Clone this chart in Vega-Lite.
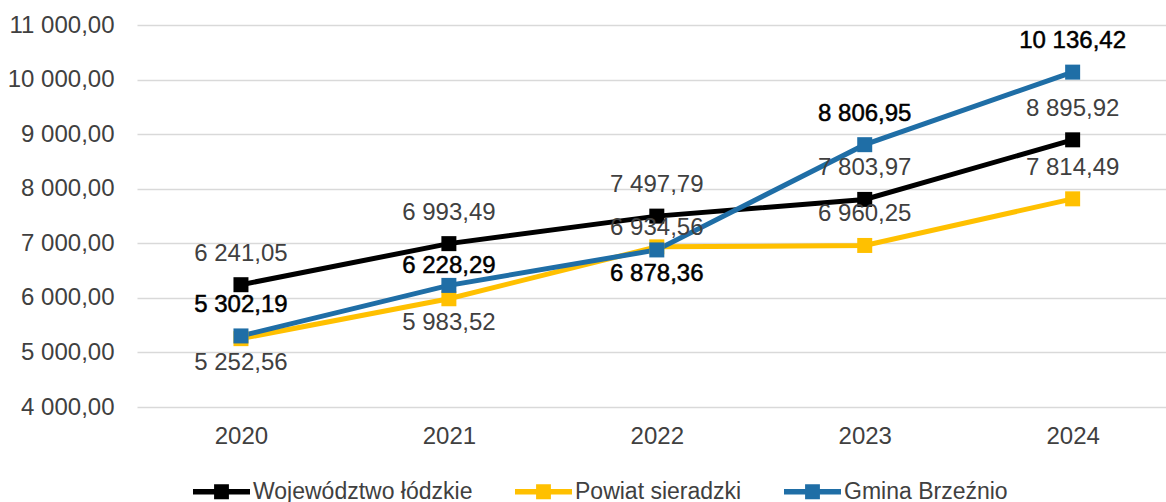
{
  "$schema": "https://vega.github.io/schema/vega-lite/v6.json",
  "width": 1029,
  "height": 382,
  "autosize": {"type": "none"},
  "padding": {"left": 137, "top": 25, "right": 0, "bottom": 95},
  "config": {
    "locale": {"number": {"decimal": ",", "thousands": " ", "grouping": [3], "currency": ["", " zł"]}},
    "font": "Liberation Sans",
    "view": {"stroke": null}
  },
  "data": {
    "values": [
      {"year": 2020, "series": "Województwo łódzkie", "value": 6241.05, "pos": "above"},
      {"year": 2021, "series": "Województwo łódzkie", "value": 6993.49, "pos": "above"},
      {"year": 2022, "series": "Województwo łódzkie", "value": 7497.79, "pos": "above"},
      {"year": 2023, "series": "Województwo łódzkie", "value": 7803.97, "pos": "above"},
      {"year": 2024, "series": "Województwo łódzkie", "value": 8895.92, "pos": "above"},
      {"year": 2020, "series": "Powiat sieradzki", "value": 5252.56, "pos": "below"},
      {"year": 2021, "series": "Powiat sieradzki", "value": 5983.52, "pos": "below"},
      {"year": 2022, "series": "Powiat sieradzki", "value": 6934.56, "pos": "above-near"},
      {"year": 2023, "series": "Powiat sieradzki", "value": 6960.25, "pos": "above"},
      {"year": 2024, "series": "Powiat sieradzki", "value": 7814.49, "pos": "above"},
      {"year": 2020, "series": "Gmina Brzeźnio", "value": 5302.19, "pos": "above"},
      {"year": 2021, "series": "Gmina Brzeźnio", "value": 6228.29, "pos": "above-near"},
      {"year": 2022, "series": "Gmina Brzeźnio", "value": 6878.36, "pos": "below"},
      {"year": 2023, "series": "Gmina Brzeźnio", "value": 8806.95, "pos": "above"},
      {"year": 2024, "series": "Gmina Brzeźnio", "value": 10136.42, "pos": "above"}
    ]
  },
  "encoding": {
    "x": {
      "field": "year", "type": "quantitative",
      "scale": {"domain": [2019.5, 2024.449], "nice": false, "zero": false},
      "axis": {
        "title": null, "values": [2020, 2021, 2022, 2023, 2024], "format": "d",
        "grid": false, "domain": false, "ticks": false,
        "labelFontSize": 24, "labelColor": "#404040", "labelPadding": 17
      }
    },
    "y": {
      "field": "value", "type": "quantitative",
      "scale": {"domain": [4000, 11000], "nice": false, "zero": false},
      "axis": {
        "title": null, "values": [4000, 5000, 6000, 7000, 8000, 9000, 10000, 11000],
        "format": ",.2f", "domain": false, "ticks": false,
        "grid": true, "gridColor": "#D9D9D9", "gridWidth": 1.5,
        "labelFontSize": 24, "labelColor": "#404040", "labelPadding": 23
      }
    }
  },
  "layer": [
    {
      "mark": {"type": "line", "strokeWidth": 5, "point": {"shape": "square", "size": 225, "filled": true, "opacity": 1}},
      "encoding": {
        "color": {
          "field": "series", "type": "nominal",
          "scale": {
            "domain": ["Województwo łódzkie", "Powiat sieradzki", "Gmina Brzeźnio"],
            "range": ["#000000", "#FFC000", "#1F6EA6"]
          },
          "legend": {
            "orient": "none", "legendX": 56, "legendY": 438,
            "direction": "horizontal", "title": null,
            "symbolType": "M-1,-0.1H1V0.1H-1Z M-0.26,-0.26H0.26V0.26H-0.26Z",
            "symbolSize": 3249, "symbolStrokeWidth": 0,
            "labelFontSize": 23, "labelColor": "#404040", "labelOffset": 3, "labelLimit": 0,
            "columnPadding": 42,
            "encode": {"symbols": {"update": {"fill": {"scale": "color", "field": "value"}, "strokeWidth": {"value": 0}, "opacity": {"value": 1}}}}
          }
        }
      }
    },
    {
      "transform": [
        {"filter": "datum.pos !== 'below'"}
      ],
      "layer": [
        {"transform": [{"filter": "datum.pos === 'above'"}], "mark": {"type": "text", "fontSize": 24, "dy": -31, "baseline": "middle", "strokeWidth": 0.5}},
        {"transform": [{"filter": "datum.pos === 'above-near'"}], "mark": {"type": "text", "fontSize": 24, "dy": -19, "baseline": "middle", "strokeWidth": 0.5}}
      ],
      "encoding": {
        "text": {"field": "value", "type": "quantitative", "format": ",.2f"},
        "color": {"condition": {"test": "datum.series === 'Gmina Brzeźnio'", "value": "#000000"}, "value": "#404040"},
        "stroke": {"condition": {"test": "datum.series === 'Gmina Brzeźnio'", "value": "#000000"}, "value": null}
      }
    },
    {
      "transform": [{"filter": "datum.pos === 'below'"}],
      "mark": {"type": "text", "fontSize": 24, "dy": 24, "baseline": "middle", "strokeWidth": 0.5},
      "encoding": {
        "text": {"field": "value", "type": "quantitative", "format": ",.2f"},
        "color": {"condition": {"test": "datum.series === 'Gmina Brzeźnio'", "value": "#000000"}, "value": "#404040"},
        "stroke": {"condition": {"test": "datum.series === 'Gmina Brzeźnio'", "value": "#000000"}, "value": null}
      }
    }
  ]
}
